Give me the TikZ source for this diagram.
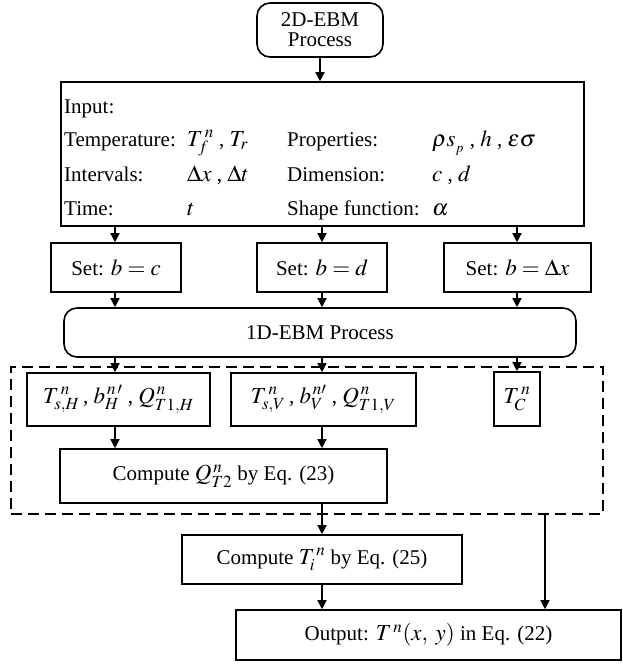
\documentclass[tikz,border=0pt]{standalone}
\usepackage{mathptmx}
\usepackage[no-math]{fontspec}
\setmainfont{Liberation Serif}
\usetikzlibrary{arrows.meta}

% math set a little larger than the surrounding text
\newcommand{\mm}[1]{{\fontsize{23}{26}\selectfont$#1$}}

\begin{document}
\begin{tikzpicture}[x=1pt,y=-1pt,
  every node/.style={font=\fontsize{21}{24}\selectfont, inner sep=0pt},
  box/.style={draw, line width=1.6pt},
  rbox/.style={box, rounded corners=13pt},
  arr/.style={line width=1.4pt, -{Triangle[length=9pt,width=9pt]}},
  grp/.style={draw, line width=1.6pt, dash pattern=on 11pt off 6pt},
  lbl/.style={anchor=base west}]
\useasboundingbox (0,0) rectangle (622,664);

% column guides for the vertical connectors
\coordinate (c1) at (115,0);
\coordinate (c2) at (322,0);
\coordinate (c3) at (517,0);
\coordinate (tap) at (545,0);

% start
\node[rbox, minimum width=126, minimum height=54, align=center,
      font=\fontsize{21}{20}\selectfont] (top) at (320,30) {2D-EBM\\Process};

% inputs
\node[box, minimum width=523, minimum height=144] (inp) at (322.5,154) {};
\node[lbl] (l0) at (64,113) {Input:};
\node[lbl] (l1) at (64,146) {Temperature:};
\node[lbl] (l2) at (64,181) {Intervals:};
\node[lbl] (l3) at (64,215) {Time:};
\node[lbl] (m1) at (187,146) {\mm{T_f^{\,n}}\ , \mm{T_r}};
\node[lbl] (m2) at (187,181) {\mm{\Delta x}\ , \mm{\Delta t}};
\node[lbl] (m3) at (187,215) {\mm{t}};
\node[lbl] (p1) at (287,146) {Properties:};
\node[lbl] (p2) at (287,181) {Dimension:};
\node[lbl] (p3) at (287,215) {Shape function:};
\node[lbl] (q1) at (432,146) {\mm{\rho s_{_p}}\ , \mm{h}\ , \mm{\varepsilon\sigma}};
\node[lbl] (q2) at (432,181) {\mm{c}\ , \mm{d}};
\node[lbl] (q3) at (432,215) {\mm{\alpha}};

% choice of b
\node[box, minimum width=130, minimum height=49] (s1) at (116,267.5) {Set: \mm{b = c}};
\node[box, minimum width=130, minimum height=49] (s2) at (322,267.5) {Set: \mm{b = d}};
\node[box, minimum width=147, minimum height=49] (s3) at (517.5,267.5) {Set: \mm{b = \Delta x}};

% 1D solver
\node[rbox, minimum width=512, minimum height=49] (e1d) at (320,332.5) {1D-EBM Process};

% results of the 1D runs
\node[grp, minimum width=592, minimum height=147] (grp) at (307,440.5) {};
\node[box, minimum width=183, minimum height=53] (r1) at (118.5,399.5)
  {\mm{T^{\,n}_{s,H}}\,, \mm{b_H^{\,n\,\prime}}\ , \mm{Q^{\,n}_{T1,H}}};
\node[box, minimum width=185, minimum height=53] (r2) at (323.5,399.5)
  {\mm{T^{\,n}_{s,V}}\,, \mm{b_V^{\,n\prime}}\ , \mm{Q^{\,n}_{T1,V}}};
\node[box, minimum width=46, minimum height=54] (r3) at (517,399) {\mm{T^{\,n}_C}};

\node[box, minimum width=327, minimum height=54] (cq) at (223.5,476)
  {Compute \mm{Q^{\,n}_{T2}} by Eq. (23)};
\node[box, minimum width=280, minimum height=49] (ct) at (322,559.5)
  {Compute \mm{T^{\,n}_i}\ by Eq. (25)};
\node[box, minimum width=385, minimum height=50] (out) at (428.5,635)
  {Output: \mm{T^{\,n}(x,\;y)}\ in Eq. (22)};

% connectors
\draw[arr] (top.south) -- (top.south |- inp.north);
\foreach \c/\s in {c1/s1, c2/s2, c3/s3}{
  \draw[arr] (\c |- inp.south) -- (\c |- \s.north);
  \draw[arr] (\c |- \s.south) -- (\c |- e1d.north);
}
\draw[arr] (c1 |- e1d.south) -- (c1 |- r1.north);
\draw[arr] (c2 |- e1d.south) -- (c2 |- r2.north);
\draw[arr] (c3 |- e1d.south) -- (c3 |- r3.north);
\draw[arr] (c1 |- r1.south) -- (c1 |- cq.north);
\draw[arr] (c2 |- r2.south) -- (c2 |- cq.north);
\draw[arr] (c2 |- cq.south) -- (c2 |- ct.north);
\draw[arr] (c2 |- ct.south) -- (c2 |- out.north);
\draw[arr] (tap |- grp.south) -- (tap |- out.north);
\end{tikzpicture}
\end{document}
